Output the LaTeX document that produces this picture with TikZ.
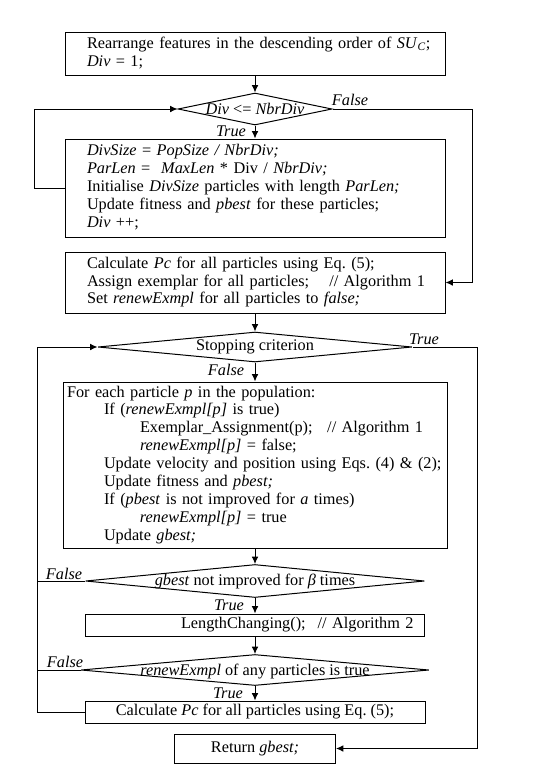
\documentclass[tikz,border=0pt]{standalone}
\usepackage{fontspec}
\setmainfont{Liberation Serif}
\usetikzlibrary{shapes.geometric,arrows.meta,calc}
\newcommand{\indA}{\hspace*{27.75pt}}
\newcommand{\indB}{\hspace*{54.75pt}}
\frenchspacing
\begin{document}
\begin{tikzpicture}[x=0.75pt,y=-0.75pt,
  font=\fontsize{12.2}{13.4}\selectfont,
  box/.style={draw, line width=0.75pt, rectangle, inner ysep=0pt},
  dia/.style={draw, line width=0.75pt, diamond, inner sep=0pt},
  lbl/.style={font=\fontsize{12.2}{13.4}\selectfont\itshape, inner sep=0pt},
  arr/.style={line width=0.75pt, -{Latex[length=5.5pt,width=5pt]}},
  ln/.style={line width=0.75pt}]
\useasboundingbox (0,0) rectangle (542,775);

% boxes
\node[box, inner xsep=3pt, text width=279pt, minimum height=32.25pt, align=left] (b1) at (255,53.5)
  {\begin{tabular}{@{\hspace{13.5pt}}l@{}}
   Rearrange features in the descending order of \textit{SU}\textsubscript{\textit{C}};\\
   \textit{Div} = 1;\end{tabular}};
\node[dia, minimum width=115.5pt, minimum height=24pt,
  label=center:{\textit{Div} <= \textit{NbrDiv}}] (d1) at (255,109) {};
\node[box, inner xsep=3pt, text width=279pt, minimum height=73.5pt, align=left] (b2) at (255,188)
  {\begin{tabular}{@{\hspace{13.5pt}}l@{}}
   \textit{DivSize} = \textit{PopSize / NbrDiv;}\\
   \textit{ParLen} = \ \textit{MaxLen} * Div / \textit{NbrDiv;}\\
   Initialise \textit{DivSize} particles with length \textit{ParLen;}\\
   Update fitness and \textit{pbest} for these particles;\\
   \textit{Div} ++;\end{tabular}};
\node[box, inner xsep=3pt, text width=279pt, minimum height=45.75pt, align=left] (b3) at (255,282.5)
  {\begin{tabular}{@{\hspace{13.5pt}}l@{}}
   Calculate \textit{Pc} for all particles using Eq. (5);\\
   Assign exemplar for all particles;\hspace{15pt}// Algorithm 1\\
   Set \textit{renewExmpl} for all particles to \textit{false;}\end{tabular}};
\node[dia, minimum width=235.5pt, minimum height=22.5pt,
  label=center:{Stopping criterion}] (d2) at (255,347) {};
\node[box, inner xsep=3pt, text width=282pt, minimum height=124.5pt, align=left] (b4) at (255,465)
  {\begin{tabular}{@{}l@{}}
   For each particle \textit{p} in the population:\\
   \indA If (\textit{renewExmpl[p]} is true)\\
   \indB Exemplar\_Assignment(p);\hspace{11pt}// Algorithm 1\\
   \indB \textit{renewExmpl[p]} = false;\\
   \indA Update velocity and position using Eqs. (4) \& (2);\\
   \indA Update fitness and \textit{pbest;}\\
   \indA If (\textit{pbest} is not improved for \textit{a} times)\\
   \indB \textit{renewExmpl[p]} = true\\
   \indA Update \textit{gbest;}\end{tabular}};
\node[dia, minimum width=254.25pt, minimum height=24.75pt,
  label=center:{\textit{gbest} not improved for \textit{β} times}] (d3) at (255,581) {};
\node[box, inner xsep=8.25pt, text width=237.75pt, minimum height=16.5pt, align=right] (b5) at (255,625)
  {LengthChanging();\hspace{9pt}// Algorithm 2};
\node[dia, minimum width=261pt, minimum height=23.25pt,
  label={[yshift=-1pt]center:{\textit{renewExmpl} of any particles is true}}] (d4) at (255,670) {};
\node[box, minimum width=255pt, minimum height=16.5pt, align=center] (b6) at (255,712)
  {Calculate \textit{Pc} for all particles using Eq. (5);};
\node[box, minimum width=120.75pt, minimum height=21.75pt, align=center] (b7) at (255,748.5)
  {Return \textit{gbest;}};

\coordinate (L) at (37,712);

% connectors
\draw[arr] (b1.south) -- (d1.north);
\draw[arr] (d1.south) -- (b2.north);
\draw[arr] (b2.west) -- ++(-30,0) |- (d1.west);
\draw[arr] (d1.east) -- ++(140,0) |- (b3.east);
\draw[arr] (b3.south) -- (d2.north);
\draw[arr] (d2.south) -- (b4.north);
\draw[arr] (d2.east) -- ++(65,0) |- (b7.east);
\draw[arr] (b4.south) -- (d3.north);
\draw[arr] (d3.south) -- (b5.north);
\draw[arr] (b5.south) -- (d4.north);
\draw[arr] (d4.south) -- (b6.north);
\draw[arr] (b6.west) -- (L) |- (d2.west);
\draw[ln] (d3.west) -- (d3.west -| L);
\draw[ln] (d4.west) -- (d4.west -| L);

% branch labels
\node[lbl] (f1) at (350,100) {False};
\node[lbl] (t1) at (231,131) {True};
\node[lbl] (t2) at (424,339) {True};
\node[lbl] (f2) at (226,370) {False};
\node[lbl] (f3) at (64,574) {False};
\node[lbl] (t3) at (229,605) {True};
\node[lbl] (f4) at (65,662) {False};
\node[lbl] (t4) at (228,693) {True};
\end{tikzpicture}
\end{document}
